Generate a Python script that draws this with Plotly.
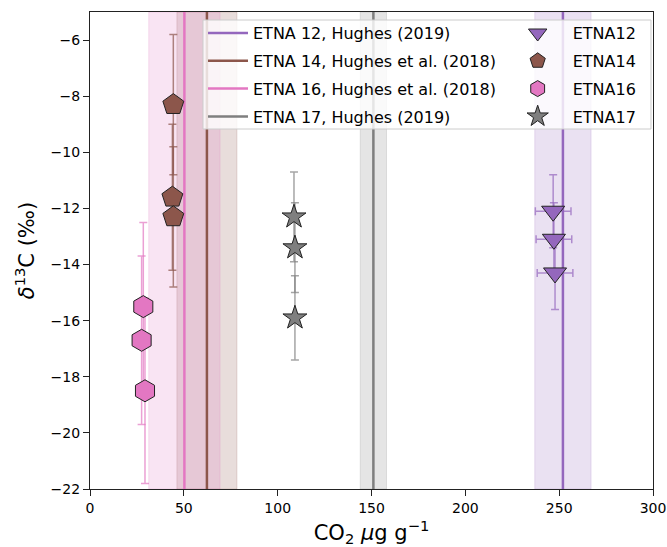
import plotly.graph_objects as go

# Axis limits
X_RANGE = [0, 300]
Y_RANGE = [-22, -5]
X_TICKS = [0, 50, 100, 150, 200, 250, 300]
Y_TICKS = [-6, -8, -10, -12, -14, -16, -18, -20, -22]

# Literature CO2 contents (centre and uncertainty, ug/g)
ref_labels = [
    "ETNA 12, Hughes (2019)",
    "ETNA 14, Hughes et al. (2018)",
    "ETNA 16, Hughes et al. (2018)",
    "ETNA 17, Hughes (2019)",
]
ref_co2 = [252.0, 62.3, 50.3, 151.0]
ref_co2_unc = [15.0, 16.0, 19.0, 7.0]

# Measured samples: CO2 content and carbon isotope composition
sample_names = ["ETNA12", "ETNA14", "ETNA16", "ETNA17"]

co2_etna12 = [246.8, 247.2, 247.8]
d13c_etna12 = [-12.1, -13.1, -14.3]
d13c_err_etna12 = [1.3, 1.3, 1.3]
co2_err_etna12 = [9.5, 9.5, 9.5]

co2_etna14 = [44.4, 43.9, 44.4]
d13c_etna14 = [-8.3, -11.6, -12.3]
d13c_err_etna14 = [2.5, 2.6, 2.5]

co2_etna16 = [28.4, 27.5, 29.3]
d13c_etna16 = [-15.5, -16.7, -18.5]
d13c_err_etna16 = [3.0, 3.0, 3.3]

co2_etna17 = [108.7, 109.2, 109.2]
d13c_etna17 = [-12.3, -13.4, -15.9]
d13c_err_etna17 = [1.6, 1.6, 1.5]

colors = ["#9467bd", "#8c564b", "#e377c2", "#7f7f7f"]
symbols = ["triangle-down", "pentagon", "hexagon", "star"]
marker_sizes = [20, 22, 22, 18]


def rgba(hex_color, alpha):
    h = hex_color.lstrip("#")
    r, g, b = int(h[0:2], 16), int(h[2:4], 16), int(h[4:6], 16)
    return f"rgba({r},{g},{b},{alpha})"


FONT = "DejaVu Sans"
fig = go.Figure()

# Uncertainty bands of the literature values
shapes = []
for c, u, col in zip(ref_co2, ref_co2_unc, colors):
    shapes.append(dict(
        type="rect", xref="x", yref="paper", x0=c - u, x1=c + u, y0=0, y1=1,
        fillcolor=rgba(col, 0.2), line=dict(color=rgba(col, 0.2), width=1),
        layer="below",
    ))

# Literature values as vertical lines
for i, (lab, c, col) in enumerate(zip(ref_labels, ref_co2, colors)):
    fig.add_trace(go.Scatter(
        x=[c, c], y=Y_RANGE, mode="lines", name=lab,
        line=dict(color=col, width=2.5), legend="legend",
        legendgroup=f"ref{i}", hoverinfo="skip",
    ))

samples = [
    (co2_etna12, d13c_etna12, d13c_err_etna12, co2_err_etna12),
    (co2_etna14, d13c_etna14, d13c_err_etna14, None),
    (co2_etna16, d13c_etna16, d13c_err_etna16, None),
    (co2_etna17, d13c_etna17, d13c_err_etna17, None),
]

for i, (name, (xs, ys, yerr, xerr), col, sym, ms) in enumerate(
        zip(sample_names, samples, colors, symbols, marker_sizes)):
    kw = {}
    if xerr is not None:
        kw["error_x"] = dict(type="data", array=xerr, visible=True,
                             color=rgba(col, 0.7), thickness=1.5, width=4)
    fig.add_trace(go.Scatter(
        x=xs, y=ys, mode="markers", name=name,
        marker=dict(symbol=sym, size=ms, color=col,
                    line=dict(color="#222222", width=1)),
        error_y=dict(type="data", array=yerr, visible=True,
                     color=rgba(col, 0.7), thickness=1.5, width=4),
        legend="legend2", legendgroup=f"s{i}", **kw,
    ))

# Semi-transparent frame behind both legend columns
shapes.append(dict(
    type="rect", xref="paper", yref="paper",
    x0=0.2007, x1=0.9964, y0=0.7547, y1=0.9832,
    fillcolor="rgba(255,255,255,0.8)", line=dict(color="#cccccc", width=1),
    layer="above",
))

axis_common = dict(
    showgrid=False, zeroline=False, showline=True, linecolor="#222222",
    linewidth=1.2, mirror=True, ticks="outside", ticklen=6, tickwidth=1.2,
    tickcolor="#222222", tickfont=dict(family=FONT, size=14, color="#000000"),
    automargin=False,
)

legend_common = dict(
    bgcolor="rgba(0,0,0,0)", borderwidth=0,
    font=dict(family=FONT, size=16, color="#000000"),
    xanchor="left", yanchor="top", tracegroupgap=4,
    traceorder="grouped",
)

fig.update_layout(
    width=667, height=547,
    margin=dict(l=90, r=14, t=12, b=58),
    paper_bgcolor="white", plot_bgcolor="white",
    font=dict(family=FONT, color="#000000"),
    shapes=shapes,
    xaxis=dict(range=X_RANGE, tickvals=X_TICKS,
               title=dict(text="CO<sub>2</sub> <i>μ</i>g g<sup>−1</sup>",
                          font=dict(family=FONT, size=21), standoff=10),
               **axis_common),
    yaxis=dict(range=Y_RANGE, tickvals=Y_TICKS,
               title=dict(text="<i>δ</i><sup>13</sup>C (‰)",
                          font=dict(family=FONT, size=21), standoff=10),
               **axis_common),
    legend=dict(x=0.2007, y=0.9914, itemwidth=40, **legend_common),
    legend2=dict(x=0.733, y=0.9914, itemwidth=60, **legend_common),
    showlegend=True,
)

fig.write_html("out.html")
